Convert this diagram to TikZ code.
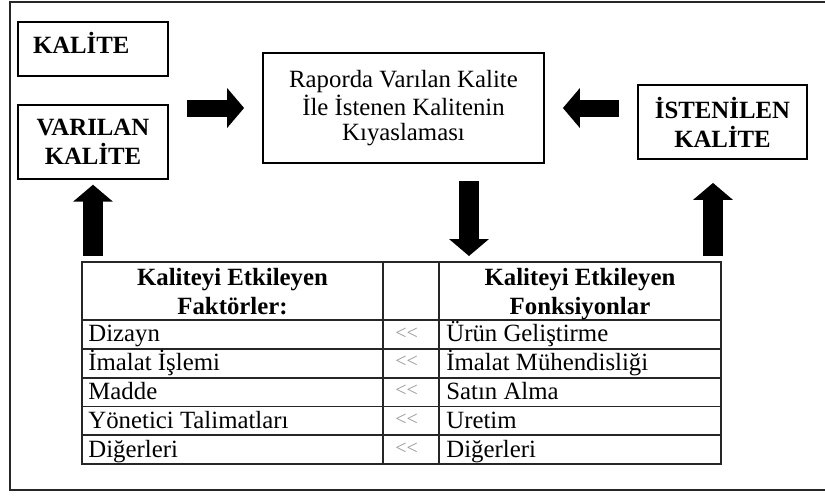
\documentclass[tikz,border=0pt]{standalone}
\usepackage{fontspec}
\setmainfont{Liberation Serif}
\usetikzlibrary{arrows.meta, positioning}

\tikzset{
  kutu/.style={draw, line width=0.9pt, align=center, inner sep=2pt,
    font=\fontsize{12.4}{14.5}\selectfont},
  kalin/.style={kutu, font=\fontsize{12.4}{14.5}\selectfont\bfseries},
  blokok/.style={line width=8.5pt, -{Triangle[width=19.5pt,length=8.5pt]}},
  cizgi/.style={line width=0.9pt, black!85},
  satir/.style={anchor=base west, inner sep=0pt, font=\fontsize{12.4}{14.5}\selectfont},
  baslik/.style={anchor=north, align=center, inner sep=0pt, font=\fontsize{12.4}{14.5}\selectfont\bfseries},
  kucuk/.style={anchor=west, inner sep=0pt, black!40, font=\fontsize{10}{12}\selectfont}
}

\begin{document}
\begin{tikzpicture}[x=0.5pt,y=-0.5pt]
  \useasboundingbox (0,0) rectangle (825,495);

  % Cerceve
  \draw[cizgi] (825,2) -- (10,2) -- (10,490) -- (825,490);

  % Kutular
  \node[kalin, minimum width=75pt, minimum height=27pt, text width=60pt,
        align=left, inner xsep=7.5pt, text depth=6pt] (kalite) at (93,49) {KALİTE};
  \node[kalin, minimum width=75pt, minimum height=37pt, below=13.5pt of kalite] (varilan) {VARILAN\\KALİTE};
  \node[kutu, minimum width=140.5pt, minimum height=55pt,
        font=\fontsize{12.4}{12.75}\selectfont] (merkez) at (403.5,108)
        {Raporda Varılan Kalite\\İle İstenen Kalitenin\\Kıyaslaması};
  \node[kalin, minimum width=84.5pt, minimum height=37pt] (isten) at (722.5,122) {İSTENİLEN\\KALİTE};

  % Tablo
  \coordinate (tablo) at (82,262);
  \coordinate (asagi) at (469,262);
  \coordinate (yukari) at (713,262);
  \draw[cizgi] (82,262) rectangle (721,464);
  \draw[cizgi] (383,262) -- (383,464);
  \draw[cizgi] (439,262) -- (439,464);
  \foreach \y in {320,348.8,377.6,406.4,435.2}
    \draw[cizgi] (82,\y) -- (721,\y);

  \node[baslik] (faktor) at (232.5,268) {Kaliteyi Etkileyen\\Faktörler:};
  \node[baslik] (fonks) at (580,268) {Kaliteyi Etkileyen\\Fonksiyonlar};

  \foreach \sol/\sag [count=\i] in {Dizayn/Ürün Geliştirme, İmalat İşlemi/İmalat Mühendisliği,
      Madde/Satın Alma, Yönetici Talimatları/Uretim, Diğerleri/Diğerleri} {
    \node[satir] (sol\i) at (88, 320+28.8*\i-7) {\sol};
    \node[kucuk] (ara\i) at (395, 320+28.8*\i-15.4) {{<}{<}};
    \node[satir] (sag\i) at (446, 320+28.8*\i-7) {\sag};
  }

  % Oklar
  \draw[blokok] ([xshift=9pt]varilan.east |- merkez.west) -- ([xshift=-9pt]merkez.west);
  \draw[blokok] ([xshift=-9pt]isten.west |- merkez.east) -- ([xshift=9pt]merkez.east);
  \draw[blokok, line width=10pt] ([yshift=3pt]varilan.south |- tablo) -- ([yshift=-2.5pt]varilan.south);
  \draw[blokok, line width=10pt] ([yshift=-8.5pt]asagi |- merkez.south) -- ([yshift=3pt]asagi);
  \draw[blokok, line width=10pt] ([yshift=3pt]yukari) -- ([yshift=-11.5pt]yukari |- isten.south);
\end{tikzpicture}
\end{document}
